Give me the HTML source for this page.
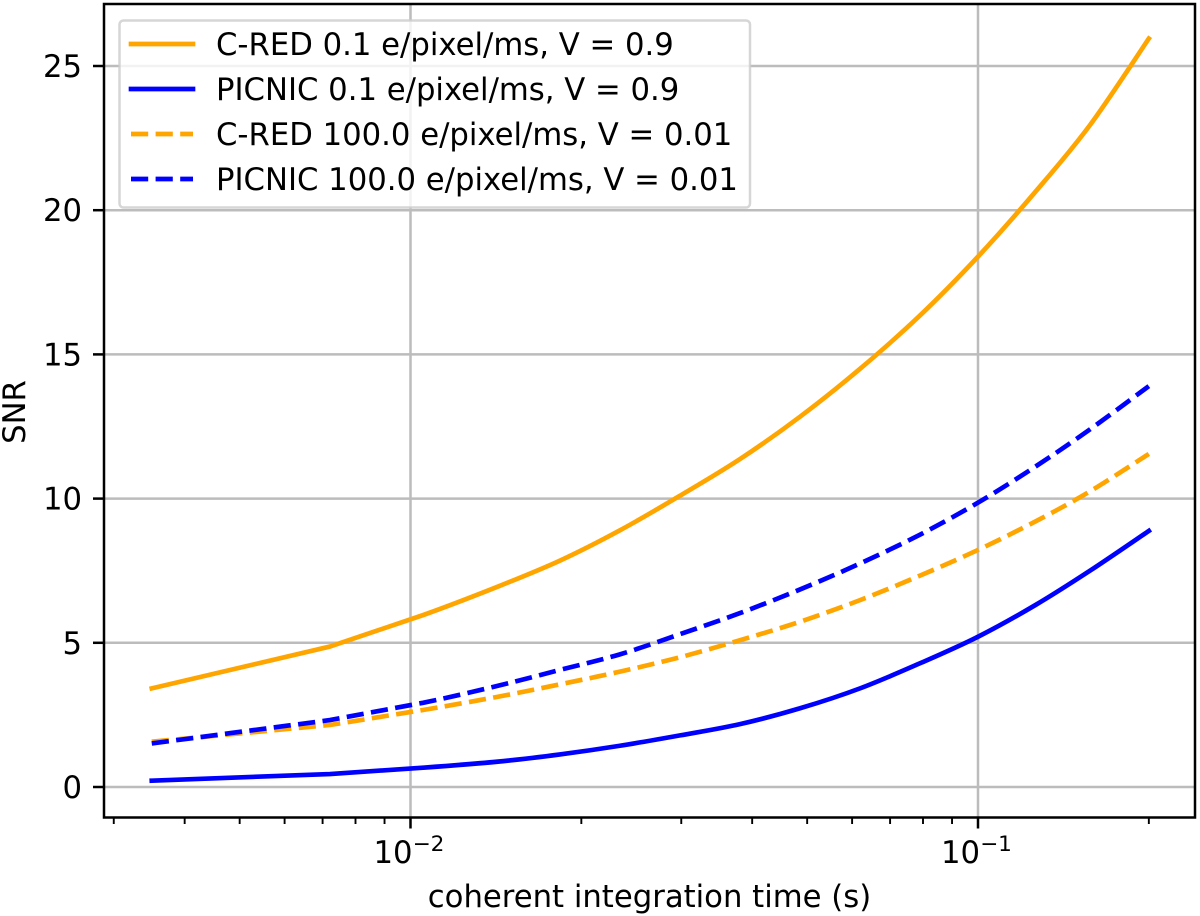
<!DOCTYPE html>
<html>
<head>
<meta charset="utf-8">
<style>
html,body{margin:0;padding:0;background:#fff;width:1200px;height:916px;overflow:hidden}
svg{display:block}
text{font-family:"DejaVu Sans","Liberation Sans",sans-serif;fill:#000}
</style>
</head>
<body>
<svg id="chart" width="1200" height="916" viewBox="0 0 1200 916" xmlns="http://www.w3.org/2000/svg">
  <g id="grid"></g>
  <g id="series"></g>
  <g id="ticks"></g>
  <rect x="104" y="4" width="1091" height="813.5" fill="none" stroke="#000" stroke-width="2.5"/>
  <g>
    <rect x="119.5" y="20.5" width="630.5" height="187" rx="4" ry="4" fill="#fff" fill-opacity="0.8" stroke="#cccccc" stroke-opacity="0.8" stroke-width="2.5"/>
    <g>
      <line x1="131" y1="44" x2="193" y2="44" stroke="#ffa500" stroke-width="4.66" stroke-linecap="square"/>
      <text x="216" y="55" font-size="30.7">C-RED 0.1 e/pixel/ms, V = 0.9</text>
    </g>
    <g>
      <line x1="131" y1="89" x2="193" y2="89" stroke="#0000ff" stroke-width="4.66" stroke-linecap="square"/>
      <text x="216" y="100" font-size="30.7">PICNIC 0.1 e/pixel/ms, V = 0.9</text>
    </g>
    <g>
      <line x1="131" y1="134" x2="193" y2="134" stroke="#ffa500" stroke-width="4.66" stroke-dasharray="17.2 7.4"/>
      <text x="216" y="145" font-size="30.7">C-RED 100.0 e/pixel/ms, V = 0.01</text>
    </g>
    <g>
      <line x1="131" y1="179" x2="193" y2="179" stroke="#0000ff" stroke-width="4.66" stroke-dasharray="17.2 7.4"/>
      <text x="216" y="190" font-size="30.7">PICNIC 100.0 e/pixel/ms, V = 0.01</text>
    </g>
  </g>
  <text x="649.5" y="907" font-size="30.7" text-anchor="middle">coherent integration time (s)</text>
  <text x="0" y="0" transform="translate(25,412) rotate(-90)" font-size="30.7" text-anchor="middle">SNR</text>
</svg>
<script>
// Chart data
const times = [0.0035, 0.00721, 0.01052, 0.01426, 0.01834, 0.02339, 0.02985, 0.03807, 0.04858, 0.06196, 0.07903, 0.1, 0.126, 0.1575, 0.2];
const credLow = [3.42, 4.87, 5.96, 6.95, 7.85, 8.9, 10.1, 11.37, 12.84, 14.5, 16.35, 18.39, 20.62, 22.95, 25.95];
const picnicLow = [0.22, 0.45, 0.67, 0.88, 1.13, 1.43, 1.79, 2.18, 2.73, 3.42, 4.29, 5.21, 6.3, 7.5, 8.88];
const credHigh = [1.57, 2.15, 2.67, 3.13, 3.56, 4.0, 4.5, 5.09, 5.73, 6.48, 7.33, 8.22, 9.2, 10.25, 11.55];
const picnicHigh = [1.51, 2.32, 2.92, 3.51, 4.06, 4.6, 5.3, 6.03, 6.85, 7.75, 8.75, 9.86, 11.1, 12.4, 13.9];
const yTicks = [0, 5, 10, 15, 20, 25];
const xMajorExponents = [-2, -1];
const xMinorTicks = [0.003, 0.004, 0.005, 0.006, 0.007, 0.008, 0.009, 0.02, 0.03, 0.04, 0.05, 0.06, 0.07, 0.08, 0.09, 0.2];

const NS = 'http://www.w3.org/2000/svg';
function xScale(t) { return 978 + (Math.log10(t) + 1) * 567.5; }
function yScale(v) { return 787 - v * 28.84; }
function make(tag, parent, attrs) {
  const el = document.createElementNS(NS, tag);
  for (const k in attrs) el.setAttribute(k, attrs[k]);
  parent.appendChild(el);
  return el;
}
const grid = document.getElementById('grid');
const ticks = document.getElementById('ticks');
const series = document.getElementById('series');

yTicks.forEach(function (v) {
  const y = yScale(v);
  const g = make('line', grid, {x1: 104, x2: 1195, y1: y, y2: y, stroke: '#bcbcbc', 'stroke-width': 2.5});
  
  
  const t = make('line', ticks, {x1: 93, x2: 104, y1: y, y2: y, stroke: '#000', 'stroke-width': 2.5});
  
  
  const l = make('text', ticks, {x: 82, y: y + 11, 'font-size': 30.7, 'text-anchor': 'end'});
  l.textContent = String(v);
  
  
});

xMajorExponents.forEach(function (e) {
  const x = xScale(Math.pow(10, e));
  const g = make('line', grid, {x1: x, x2: x, y1: 4, y2: 817.5, stroke: '#bcbcbc', 'stroke-width': 2.5});
  
  
  const t = make('line', ticks, {x1: x, x2: x, y1: 817.5, y2: 828.5, stroke: '#000', 'stroke-width': 2.5});
  
  
  const l = make('text', ticks, {x: x - 37, y: 863, 'font-size': 30.7});
  
  
  const base = make('tspan', l, {});
  base.textContent = '10';
  const sup = make('tspan', l, {'font-size': 21.6, dy: -12});
  sup.textContent = '\u2212' + Math.abs(e);
});

xMinorTicks.forEach(function (m) {
  const x = xScale(m);
  const t = make('line', ticks, {x1: x, x2: x, y1: 817.5, y2: 824, stroke: '#000', 'stroke-width': 1.9});
  
  
});

// Straight through the first two samples (the source curve is visibly coarse there), smooth beyond
function pathFor(values) {
  const pts = values.map(function (v, i) { return [xScale(times[i]), yScale(v)]; });
  let d = 'M' + pts[0][0].toFixed(2) + ' ' + pts[0][1].toFixed(2);
  for (let i = 1; i < pts.length; i++) {
    if (i < 3) {
      d += ' L' + pts[i][0].toFixed(2) + ' ' + pts[i][1].toFixed(2);
    } else {
      const p0 = pts[i - 2], p1 = pts[i - 1], p2 = pts[i], p3 = pts[Math.min(i + 1, pts.length - 1)];
      const c1x = p1[0] + (p2[0] - p0[0]) / 6, c1y = p1[1] + (p2[1] - p0[1]) / 6;
      const c2x = p2[0] - (p3[0] - p1[0]) / 6, c2y = p2[1] - (p3[1] - p1[1]) / 6;
      d += ' C' + c1x.toFixed(2) + ' ' + c1y.toFixed(2) + ' ' + c2x.toFixed(2) + ' ' + c2y.toFixed(2) + ' ' + p2[0].toFixed(2) + ' ' + p2[1].toFixed(2);
    }
  }
  return d;
}

const s1 = make('path', series, {d: pathFor(credLow), fill: 'none', stroke: '#ffa500', 'stroke-width': 4.66, 'stroke-linecap': 'square', 'stroke-linejoin': 'round'});



const s2 = make('path', series, {d: pathFor(picnicLow), fill: 'none', stroke: '#0000ff', 'stroke-width': 4.66, 'stroke-linecap': 'square', 'stroke-linejoin': 'round'});



const s3 = make('path', series, {d: pathFor(credHigh), fill: 'none', stroke: '#ffa500', 'stroke-width': 4.66, 'stroke-dasharray': '17.2 7.4', 'stroke-linejoin': 'round'});



const s4 = make('path', series, {d: pathFor(picnicHigh), fill: 'none', stroke: '#0000ff', 'stroke-width': 4.66, 'stroke-dasharray': '17.2 7.4', 'stroke-linejoin': 'round'});


</script>
</body>
</html>
